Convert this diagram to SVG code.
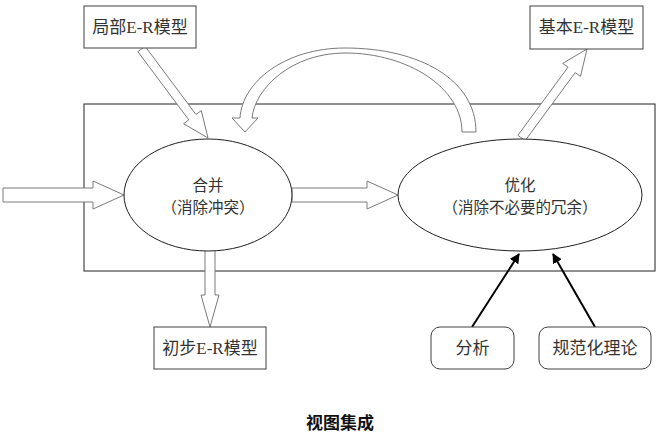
<svg xmlns="http://www.w3.org/2000/svg" width="661" height="436" viewBox="0 0 661 436">
<style>
  .box{fill:#fff;stroke:#404040;stroke-width:1}
  .frame{fill:none;stroke:#202020;stroke-width:1}
  .ell{fill:#fff;stroke:#202020;stroke-width:1}
  .blk{fill:#fff;stroke:#7a7a7a;stroke-width:1;stroke-linejoin:miter}
  .lbl{font-family:"Liberation Serif","Noto Sans CJK SC",serif;font-size:17px;fill:#333;text-anchor:middle;dominant-baseline:central}
  .el{font-family:"Liberation Serif","Noto Sans CJK SC",serif;font-size:15.5px;fill:#333;text-anchor:middle;dominant-baseline:central}
  .title{font-family:"Noto Sans CJK SC",sans-serif;font-size:17px;font-weight:bold;fill:#111;text-anchor:middle}
  .blkline{stroke:#000;stroke-width:2;fill:none}
</style>
<defs>
  <marker id="ah" viewBox="0 0 10 10" refX="9" refY="5" markerWidth="5" markerHeight="5" orient="auto" markerUnits="strokeWidth">
    <path d="M0,0 L10,5 L0,10 Z" fill="#000"/>
  </marker>
</defs>
<rect class="frame" x="84" y="104" width="571" height="167"/>
<g id="connectors">
  <polygon class="blk" points="3,188 93,188 93,181 124,195 93,209 93,202 3,202"/>
  <polygon class="blk" points="292,188 367,188 367,181 398,195 367,209 367,202 292,202"/>
  <polygon class="blk" points="205,250 205,295 201,295 210,327 219,295 215,295 215,250"/>
  <polygon class="blk" points="145.1,46.3 196,114.5 201.3,110.6 208,138 183.6,123.7 188.8,119.9 137.9,51.7"/>
  <polygon class="blk" points="517.9,135.3 568,67.2 562.7,63.4 587,49 580.5,76.4 575.2,72.6 525.1,140.7"/>
  <path class="blk" d="M476 132 C476 80 420 48 345 48 C285 48 242 82 240 118 L232 118 L245 132 L258 118 L252 118 C255 88 292 53 345 53 C408 53 462 88 462 132 Z"/>
  <line class="blkline" x1="472" y1="327" x2="519" y2="254" marker-end="url(#ah)"/>
  <line class="blkline" x1="595" y1="327" x2="553" y2="254" marker-end="url(#ah)"/>
</g>
<g id="n-merge">
  <ellipse class="ell" cx="208" cy="195" rx="84" ry="56"/>
  <text class="el" x="208" y="185">合并</text>
  <text class="el" x="208" y="207">（消除冲突）</text>
</g>
<g id="n-opt">
  <ellipse class="ell" cx="520" cy="195" rx="122" ry="56"/>
  <text class="el" x="520" y="185">优化</text>
  <text class="el" x="520" y="207">（消除不必要的冗余）</text>
</g>
<g id="n-local">
  <rect class="box" x="84" y="6" width="112" height="42"/>
  <text class="lbl" x="140" y="27">局部E-R模型</text>
</g>
<g id="n-basic">
  <rect class="box" x="530" y="6" width="113" height="43"/>
  <text class="lbl" x="586.5" y="27.5">基本E-R模型</text>
</g>
<g id="n-init">
  <rect class="box" x="154" y="327" width="112" height="42"/>
  <text class="lbl" x="210" y="348">初步E-R模型</text>
</g>
<g id="n-analysis">
  <rect class="box" x="431" y="327" width="83" height="42" rx="9"/>
  <text class="lbl" x="472.5" y="348">分析</text>
</g>
<g id="n-theory">
  <rect class="box" x="539" y="327" width="112" height="42" rx="9"/>
  <text class="lbl" x="595" y="348">规范化理论</text>
</g>
<text class="title" x="340" y="429">视图集成</text>
</svg>
